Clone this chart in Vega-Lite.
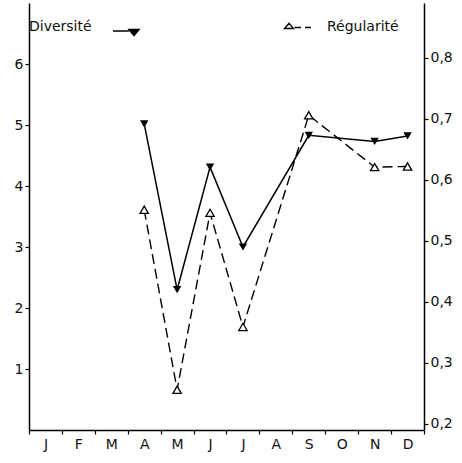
{
  "$schema": "https://vega.github.io/schema/vega-lite/v6.json",
  "width": 395,
  "height": 427,
  "autosize": {"type": "none"},
  "padding": {"left": 29, "top": 3, "right": 38, "bottom": 33},
  "background": "white",
  "config": {
    "view": {"stroke": null},
    "font": "DejaVu Sans",
    "axis": {
      "domainColor": "black",
      "domainWidth": 1.5,
      "tickColor": "black",
      "tickWidth": 1.2,
      "tickSize": 4,
      "labelFont": "DejaVu Sans",
      "labelFontSize": 14,
      "labelColor": "#111",
      "grid": false,
      "title": null
    }
  },
  "data": {
    "values": [
      {"mois": 4, "diversite": 5.02, "regularite": 0.551},
      {"mois": 5, "diversite": 2.3, "regularite": 0.256},
      {"mois": 6, "diversite": 4.31, "regularite": 0.546},
      {"mois": 7, "diversite": 3.0, "regularite": 0.359},
      {"mois": 9, "diversite": 4.83, "regularite": 0.706},
      {"mois": 11, "diversite": 4.73, "regularite": 0.621},
      {"mois": 12, "diversite": 4.82, "regularite": 0.622}
    ]
  },
  "encoding": {
    "x": {
      "field": "mois",
      "type": "ordinal",
      "scale": {"type": "band", "domain": [1, 2, 3, 4, 5, 6, 7, 8, 9, 10, 11, 12], "paddingInner": 0, "paddingOuter": 0},
      "axis": {
        "tickBand": "extent",
        "labelAngle": 0,
        "labelPadding": 3,
        "labelExpr": "['J','F','M','A','M','J','J','A','S','O','N','D'][datum.value - 1]"
      }
    }
  },
  "layer": [
    {
      "layer": [
        {
          "mark": {"type": "line", "color": "black", "strokeWidth": 1.5},
          "encoding": {
            "y": {
              "field": "diversite",
              "type": "quantitative",
              "scale": {"domain": [0, 7], "nice": false, "zero": false},
              "axis": {"orient": "left", "values": [1, 2, 3, 4, 5, 6], "format": "d", "labelPadding": 2}
            },
            "color": {
              "datum": "Diversité",
              "scale": {"range": ["black"]},
              "legend": {
                "orient": "none",
                "legendX": 2,
                "legendY": 17,
                "title": null,
                "padding": 0,
                "labelFont": "DejaVu Sans",
                "labelFontSize": 14,
                "labelColor": "#111",
                "symbolType": "M-4.2,0.8L-1,0.8M-1,0.5L1,0.5L0,1.7Z",
                "symbolSize": 100,
                "symbolFillColor": "black",
                "symbolStrokeColor": "black",
                "symbolStrokeWidth": 1.5,
                "symbolOffset": 96,
                "labelOffset": -112
              }
            }
          }
        },
        {
          "mark": {"type": "point", "shape": "triangle-down", "filled": true, "color": "black", "size": 70, "opacity": 1},
          "encoding": {"y": {"field": "diversite", "type": "quantitative"}}
        }
      ]
    },
    {
      "layer": [
        {
          "mark": {"type": "line", "color": "black", "strokeWidth": 1.4, "strokeDash": [10, 5]},
          "encoding": {
            "y": {
              "field": "regularite",
              "type": "quantitative",
              "scale": {"domain": [0.19, 0.89], "nice": false, "zero": false},
              "axis": {
                "orient": "right",
                "values": [0.2, 0.3, 0.4, 0.5, 0.6, 0.7, 0.8],
                "labelPadding": 2,
                "labelExpr": "replace(format(datum.value, '.1f'), '.', ',')"
              }
            },
            "color": {
              "datum": "Régularité",
              "scale": {"range": ["black"]},
              "legend": {
                "orient": "none",
                "legendX": 253,
                "legendY": 17,
                "title": null,
                "padding": 0,
                "labelFont": "DejaVu Sans",
                "labelFontSize": 14,
                "labelColor": "#111",
                "symbolType": "M-0.9,0.3L0,-0.75L0.9,0.3ZM1.1,0.1L2.4,0.1M3.2,0.1L4.4,0.1",
                "symbolSize": 100,
                "symbolFillColor": "white",
                "symbolStrokeColor": "black",
                "symbolStrokeWidth": 1.3,
                "symbolDash": [],
                "symbolOffset": 0,
                "labelOffset": 31
              }
            }
          }
        },
        {
          "mark": {"type": "point", "shape": "triangle-up", "filled": false, "fill": "white", "stroke": "black", "strokeWidth": 1.3, "size": 70, "opacity": 1},
          "encoding": {"y": {"field": "regularite", "type": "quantitative"}}
        }
      ]
    }
  ],
  "resolve": {"scale": {"y": "independent", "color": "independent"}}
}
